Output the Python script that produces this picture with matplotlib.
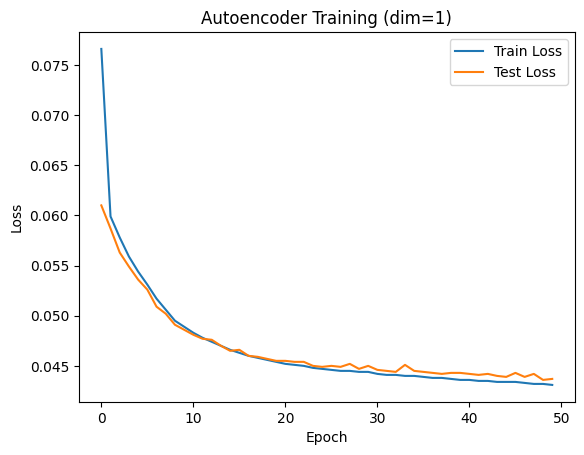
import matplotlib
matplotlib.use("Agg")
import matplotlib.pyplot as plt

epochs = list(range(50))
train_loss = [0.0766, 0.0599, 0.0578, 0.0559, 0.0544, 0.0531, 0.0517, 0.0506, 0.0495, 0.0489,
              0.0483, 0.0478, 0.0474, 0.0470, 0.0466, 0.0463, 0.0460, 0.0458, 0.0456, 0.0454,
              0.0452, 0.0451, 0.0450, 0.0448, 0.0447, 0.0446, 0.0445, 0.0445, 0.0444, 0.0444,
              0.0442, 0.0441, 0.0441, 0.0440, 0.0440, 0.0439, 0.0438, 0.0438, 0.0437, 0.0436,
              0.0436, 0.0435, 0.0435, 0.0434, 0.0434, 0.0434, 0.0433, 0.0432, 0.0432, 0.0431]
test_loss = [0.0610, 0.0587, 0.0563, 0.0549, 0.0536, 0.0526, 0.0509, 0.0502, 0.0491, 0.0486,
             0.0481, 0.0477, 0.0476, 0.0470, 0.0465, 0.0466, 0.0460, 0.0459, 0.0457, 0.0455,
             0.0455, 0.0454, 0.0454, 0.0450, 0.0449, 0.0450, 0.0449, 0.0452, 0.0447, 0.0450,
             0.0446, 0.0445, 0.0444, 0.0451, 0.0445, 0.0444, 0.0443, 0.0442, 0.0443, 0.0443,
             0.0442, 0.0441, 0.0442, 0.0440, 0.0439, 0.0443, 0.0439, 0.0442, 0.0436, 0.0437]

fig, ax = plt.subplots(figsize=(6.4, 4.8), dpi=100)
ax.plot(epochs, train_loss, label="Train Loss")
ax.plot(epochs, test_loss, label="Test Loss")
ax.set_title("Autoencoder Training (dim=1)")
ax.set_xlabel("Epoch")
ax.set_ylabel("Loss")
ax.legend()
fig.savefig("out.png", dpi=100, bbox_inches="tight")
